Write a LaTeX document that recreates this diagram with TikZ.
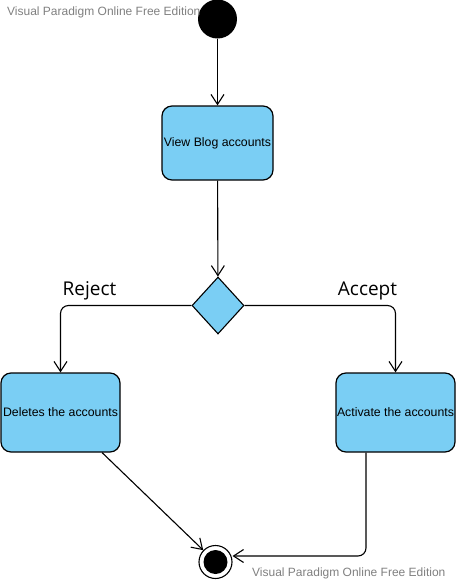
\documentclass[tikz,border=0pt]{standalone}
\usepackage{fontspec}
\setmainfont{Liberation Sans}
\newfontfamily\labelfont{Open Sans}
\usetikzlibrary{arrows.meta,shapes.geometric}

\definecolor{actblue}{HTML}{7ACEF4}
\definecolor{markgray}{HTML}{808080}

\begin{document}
\begin{tikzpicture}[x=1pt,y=-1pt]
    \useasboundingbox (0,0) rectangle (456,582);
    \tikzset{ActionStyle/.style = {draw, line width=1.2pt, fill=actblue, rounded corners=10pt,
                                    font=\fontsize{12.3}{14}\selectfont, inner sep=0pt},
             EdgeStyle/.style = {line width=1.1pt, -{Straight Barb[length=10pt,width=13pt]}},
             GuardStyle/.style = {font=\labelfont\fontsize{19}{21}\selectfont},
             MarkStyle/.style = {text=markgray, font=\fontsize{12}{14}\selectfont, inner sep=0pt}}

    % Vertices
    \node[circle, fill=black, minimum size=39pt, inner sep=0pt] (start) at (217.5,19) {};
    \node[ActionStyle, minimum width=111pt, minimum height=74pt] (view) at (217.5,143) {View Blog accounts};
    \node[diamond, draw, line width=1.1pt, fill=actblue, minimum width=52pt, minimum height=57pt,
          inner sep=0pt] (choice) at (218,305.5) {};
    \node[ActionStyle, minimum width=119pt, minimum height=79pt] (delete) at (60.5,412.5) {Deletes the accounts};
    \node[ActionStyle, minimum width=119pt, minimum height=79pt] (activate) at (395.5,412.5) {Activate the accounts};
    \node[circle, draw, line width=1.1pt, fill=white, minimum size=33pt, inner sep=0pt] (end) at (215.5,562) {};
    \fill (end) circle (12);

    % Guards
    \node[GuardStyle] (reject) at (89.5,291) {Reject};
    \node[GuardStyle] (accept) at (367.5,291) {Accept};

    % Edges
    \draw[EdgeStyle] (start) -- (view);
    \draw[EdgeStyle] (view) -- (choice);
    % choice | both branches
    \draw[EdgeStyle, rounded corners=8pt] (choice.west) -| (delete.north);
    \draw[EdgeStyle, rounded corners=8pt] (choice.east) -| (activate.north);

    % branches | end
    \draw[EdgeStyle] (delete) -- (end);
    \draw[EdgeStyle, rounded corners=8pt] ([xshift=-29.5pt]activate.south) |- ([yshift=6pt]end.east);

    % Watermarks
    \node[MarkStyle, anchor=west] (markTop) at (7,12) {Visual Paradigm Online Free Edition};
    \node[MarkStyle, anchor=west] (markBottom) at (252,573) {Visual Paradigm Online Free Edition};

\end{tikzpicture}
\end{document}
